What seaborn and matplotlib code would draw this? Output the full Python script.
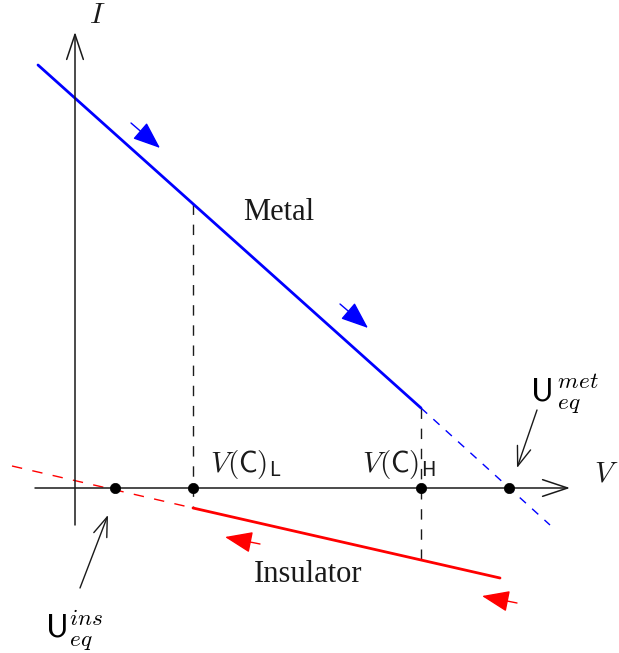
import numpy as np
import matplotlib
matplotlib.use("Agg")
import matplotlib.pyplot as plt
import seaborn as sns

sns.set_theme(style="white")
plt.rcParams["mathtext.fontset"] = "cm"
plt.rcParams["font.family"] = ["DejaVu Sans"]

# I-V branches (schematic units, origin at the axes crossing)
metal_v = [-37, 346]
metal_i = [423, 80]
metal_ext_v = [346, 475]
metal_ext_i = [80, -37]
ins_v = [118, 425]
ins_i = [-20, -90]
ins_ext_v = [-63, 118]
ins_ext_i = [22, -20]

# characteristic voltages on the V axis
V_L = 118
V_H = 346
U_ins = 40
U_met = 434
axis_points = [U_ins, V_L, V_H, U_met]

fig = plt.figure(figsize=(6.19, 6.53), dpi=100)
ax = fig.add_axes([0, 0, 1, 1])
ax.set_xlim(-75, 544)
ax.set_ylim(-165, 488)
ax.axis("off")

blue = "#0000ff"
red = "#ff0000"
ink = "#1a1a1a"

# coordinate axes
for start, end in (((0, -37), (0, 456)), ((-40, 0), (495, 0))):
    ax.annotate("", xy=end, xytext=start,
                arrowprops=dict(arrowstyle="->,head_length=0.9,head_width=0.3",
                                lw=1.1, color=ink, mutation_scale=20,
                                shrinkA=0, shrinkB=0))

# dashed guides from the metal branch down to the insulating branch
met_all_v = metal_v + metal_ext_v[1:]
met_all_i = metal_i + metal_ext_i[1:]
ins_all_v = ins_ext_v + ins_v[1:]
ins_all_i = ins_ext_i + ins_i[1:]
for v in (V_L, V_H):
    top = np.interp(v, met_all_v, met_all_i)
    bot = np.interp(v, ins_all_v, ins_all_i)
    ax.plot([v, v], [top, bot], color=ink, lw=1.0, dashes=(7.5, 7))

# branches
sns.lineplot(x=metal_v, y=metal_i, ax=ax, color=blue, lw=2.0, sort=False)
sns.lineplot(x=metal_ext_v, y=metal_ext_i, ax=ax, color=blue, lw=1.0,
             sort=False).lines[-1].set_dashes((6, 6))
sns.lineplot(x=ins_v, y=ins_i, ax=ax, color=red, lw=2.0, sort=False)
sns.lineplot(x=ins_ext_v, y=ins_ext_i, ax=ax, color=red, lw=1.0,
             sort=False).lines[-1].set_dashes((7.5, 7.5))

# points on the V axis
sns.scatterplot(x=axis_points, y=[0] * len(axis_points), ax=ax,
                color="black", s=55, zorder=5, edgecolor="black", linewidth=0.5)

# sweep direction arrows
sweep = [((56, 365), (85, 340), blue), ((265, 184), (293, 160), blue),
         ((185, -56), (150, -49), red), ((442, -115), (407, -108), red)]
for start, end, col in sweep:
    ax.annotate("", xy=end, xytext=start,
                arrowprops=dict(arrowstyle="-|>,head_length=0.95,head_width=0.37",
                                lw=1.0, color=col, mutation_scale=18,
                                shrinkA=0, shrinkB=0))

# labels
ax.text(22, 473, r"$I$", fontsize=21, ha="center", va="center", color=ink)
ax.text(519, 14, r"$V$", fontsize=21, ha="left", va="center", color=ink)
ax.text(204, 275, "Metal", fontsize=22, family="Liberation Serif",
        ha="center", va="center", color=ink)
ax.text(233, -86, "Insulator", fontsize=22, family="Liberation Serif",
        ha="center", va="center", color=ink)
ax.text(135, 16, r"$V\mathsf{(C)}_{\mathsf{L}}$", fontsize=21,
        ha="left", va="baseline", color=ink)
ax.text(287, 16, r"$V\mathsf{(C)}_{\mathsf{H}}$", fontsize=21,
        ha="left", va="baseline", color=ink)
ax.text(-30, -149, r"$\mathsf{U}_{eq}^{ins}$", fontsize=24,
        ha="left", va="baseline", color="black")
ax.text(455, 88, r"$\mathsf{U}_{\,eq}^{\,met}$", fontsize=24,
        ha="left", va="baseline", color="black")

# pointers to the equilibrium points
for start, end in (((5, -100), (33, -27)), ((462, 78), (442, 20))):
    ax.annotate("", xy=end, xytext=start,
                arrowprops=dict(arrowstyle="->,head_length=0.7,head_width=0.25",
                                lw=1.0, color=ink, mutation_scale=20,
                                shrinkA=0, shrinkB=0))

fig.savefig("out.png", dpi=100)
